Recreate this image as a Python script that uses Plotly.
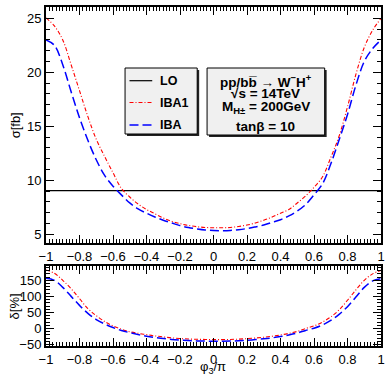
import plotly.graph_objects as go

# ---------------- data ----------------
phi = [-1.00, -0.95, -0.90, -0.85, -0.80, -0.75, -0.70, -0.65, -0.60, -0.55,
       -0.50, -0.45, -0.40, -0.35, -0.30, -0.25, -0.20, -0.15, -0.10, -0.05,
       0.00, 0.05, 0.10, 0.15, 0.20, 0.25, 0.30, 0.35, 0.40, 0.45,
       0.50, 0.55, 0.60, 0.65, 0.70, 0.75, 0.80, 0.85, 0.90, 0.95, 1.00]

sigma_iba1 = [25.05, 24.3, 23.0, 20.7, 18.3, 15.9, 13.8, 12.2, 10.7, 9.25,
              8.45, 7.8, 7.3, 6.9, 6.5, 6.2, 5.98, 5.82, 5.7, 5.63,
              5.6, 5.6, 5.63, 5.72, 5.85, 6.05, 6.3, 6.6, 6.95, 7.3,
              7.9, 8.55, 9.35, 10.3, 12.1, 14.1, 16.8, 19.8, 22.3, 23.9, 25.0]

sigma_iba = [23.0, 22.5, 20.7, 18.2, 15.8, 13.7, 11.9, 10.45, 9.45, 8.65,
             7.9, 7.35, 6.95, 6.6, 6.3, 6.05, 5.8, 5.62, 5.5, 5.4,
             5.35, 5.33, 5.35, 5.42, 5.53, 5.68, 5.85, 6.1, 6.35, 6.7,
             7.15, 7.75, 8.65, 9.65, 11.5, 13.75, 16.1, 18.8, 21.0, 22.2, 23.0]

lo_sigma = 9.05

delta_iba1 = [182, 172, 150, 124, 93, 62, 40, 22, 8, -2,
              -10, -15, -19, -23, -26, -29, -31, -32.5, -33.5, -34,
              -34.5, -34.5, -34, -33, -31.5, -29.5, -27, -24, -20, -15,
              -9, 0, 8, 20, 36, 58, 88, 120, 150, 170, 181]

delta_iba = [156, 150, 128, 100, 72, 47, 28, 14, 3, -6,
             -13, -19, -24, -28, -31, -34, -36, -37.5, -38.5, -39,
             -39.5, -39.5, -39, -38, -36.5, -34.5, -32, -29, -25, -20,
             -14, -6, 1, 11, 25, 44, 68, 98, 128, 148, 155]

x_tick_vals = [-1, -0.8, -0.6, -0.4, -0.2, 0, 0.2, 0.4, 0.6, 0.8, 1]
x_tick_text = ["\u22121", "\u22120.8", "\u22120.6", "\u22120.4", "\u22120.2", "0",
               "0.2", "0.4", "0.6", "0.8", "1"]
top_tick_vals = [5, 10, 15, 20, 25]
top_tick_text = ["5", "10", "15", "20", "25"]
bot_tick_vals = [-50, 0, 50, 100, 150]
bot_tick_text = ["\u221250", "0", "50", "100", "150"]

legend_labels = ["LO", "IBA1", "IBA"]
info_lines = ["pp/bb\u0305 \u2192 W<sup>\u2212</sup>H<sup>+</sup>",
              "\u221As = 14TeV",
              "M<sub>H\u00b1</sub> = 200GeV",
              "tan\u03b2 = 10"]

# ---------------- geometry helpers (pixel -> paper) ----------------
W, H = 387, 378
ML, MR, MT, MB = 46, 2, 7, 32
PW, PH = W - ML - MR, H - MT - MB


def px(x):
    return (x - ML) / PW


def py(y):
    return (H - MB - y) / PH


FONT = "Liberation Sans, Arial, Helvetica, sans-serif"
RED = "#ff0000"
BLUE = "#0000ff"
RED_DASH = "4px,2px,1px,2px"
BLUE_DASH = "9px,4px"

fig = go.Figure()

# top panel
fig.add_trace(go.Scatter(x=phi, y=[lo_sigma] * len(phi), mode="lines",
                         line=dict(color="black", width=1.2),
                         xaxis="x", yaxis="y", name=legend_labels[0]))
fig.add_trace(go.Scatter(x=phi, y=sigma_iba1, mode="lines", line_shape="spline",
                         line=dict(color=RED, width=1.1, dash=RED_DASH),
                         xaxis="x", yaxis="y", name=legend_labels[1]))
fig.add_trace(go.Scatter(x=phi, y=sigma_iba, mode="lines", line_shape="spline",
                         line=dict(color=BLUE, width=1.5, dash=BLUE_DASH),
                         xaxis="x", yaxis="y", name=legend_labels[2]))
# bottom panel
fig.add_trace(go.Scatter(x=phi, y=delta_iba1, mode="lines", line_shape="spline",
                         line=dict(color=RED, width=1.1, dash=RED_DASH),
                         xaxis="x2", yaxis="y2", name=legend_labels[1]))
fig.add_trace(go.Scatter(x=phi, y=delta_iba, mode="lines", line_shape="spline",
                         line=dict(color=BLUE, width=1.5, dash=BLUE_DASH),
                         xaxis="x2", yaxis="y2", name=legend_labels[2]))

axis_common = dict(showgrid=False, zeroline=False, showline=True, linecolor="black",
                   linewidth=2, mirror="allticks", ticks="inside", ticklen=8,
                   tickwidth=1, tickcolor="black",
                   tickfont=dict(family=FONT, size=13, color="black"))

xaxis_common = dict(axis_common, range=[-1, 1], tickmode="array",
                    tickvals=x_tick_vals, ticktext=x_tick_text,
                    minor=dict(tickmode="linear", tick0=-1, dtick=0.02, ticklen=4,
                               ticks="inside", tickcolor="black", tickwidth=1))

top_dom = [py(243), 1]
bot_dom = [0, py(266)]

fig.update_layout(
    width=W, height=H,
    margin=dict(l=ML, r=MR, t=MT, b=MB, pad=0),
    paper_bgcolor="white", plot_bgcolor="white",
    showlegend=False,
    font=dict(family=FONT, size=13, color="black"),
    xaxis=dict(xaxis_common, anchor="y", domain=[0, 1]),
    yaxis=dict(axis_common, anchor="x", domain=top_dom, range=[4.19, 26.05],
               tickmode="array", tickvals=top_tick_vals, ticktext=top_tick_text,
               minor=dict(tickmode="linear", tick0=0, dtick=1, ticklen=4,
                          ticks="inside", tickcolor="black", tickwidth=1)),
    xaxis2=dict(xaxis_common, anchor="y2", domain=[0, 1]),
    yaxis2=dict(axis_common, anchor="x2", domain=bot_dom, range=[-54.4, 194.5],
                tickmode="array", tickvals=bot_tick_vals, ticktext=bot_tick_text,
                minor=dict(tickmode="linear", tick0=0, dtick=10, ticklen=4,
                           ticks="inside", tickcolor="black", tickwidth=1)),
)

shapes = []
annotations = []

# axis titles
annotations.append(dict(xref="paper", yref="paper", x=px(15), y=py(125),
                        text="\u03c3[fb]", textangle=-90, showarrow=False,
                        font=dict(family=FONT, size=13), xanchor="center", yanchor="middle"))
annotations.append(dict(xref="paper", yref="paper", x=px(14), y=py(306),
                        text="\u03b4[%]", textangle=-90, showarrow=False,
                        font=dict(family=FONT, size=13), xanchor="center", yanchor="middle"))
annotations.append(dict(xref="paper", yref="paper", x=px(215), y=py(378),
                        text="\u03c6<sub>3</sub>/\u03c0", showarrow=False,
                        font=dict(family=FONT, size=13), xanchor="center", yanchor="bottom"))


def box(x0, y0, x1, y1):
    # shadow
    shapes.append(dict(type="rect", xref="paper", yref="paper",
                       x0=px(x0 + 2), x1=px(x1 + 2), y0=py(y1 + 2), y1=py(y0 + 2),
                       fillcolor="#222222", line=dict(width=0), layer="above"))
    shapes.append(dict(type="rect", xref="paper", yref="paper",
                       x0=px(x0), x1=px(x1), y0=py(y1), y1=py(y0),
                       fillcolor="#f0f0f0", line=dict(color="black", width=1), layer="above"))


# legend box
box(126, 68, 199, 134)
legend_y = [80.7, 102.5, 125]
legend_styles = [dict(color="black", width=1.2),
                 dict(color=RED, width=1.1, dash=RED_DASH),
                 dict(color=BLUE, width=1.5, dash=BLUE_DASH)]
for lab, yy, st in zip(legend_labels, legend_y, legend_styles):
    shapes.append(dict(type="line", xref="paper", yref="paper",
                       x0=px(130.5), x1=px(153.5), y0=py(yy), y1=py(yy),
                       line=st, layer="above"))
    annotations.append(dict(xref="paper", yref="paper", x=px(159), y=py(yy),
                            text="<b>" + lab + "</b>", showarrow=False,
                            xanchor="left", yanchor="middle",
                            font=dict(family=FONT, size=12.5)))

# info box
box(209, 68, 328, 135)
info_y = [80.5, 93.5, 107, 126.5]
for txt, yy in zip(info_lines, info_y):
    annotations.append(dict(xref="paper", yref="paper", x=px(268.5), y=py(yy),
                            text="<b>" + txt + "</b>", showarrow=False,
                            xanchor="center", yanchor="middle",
                            font=dict(family=FONT, size=13.5)))

fig.update_layout(shapes=shapes, annotations=annotations)

fig.write_html("out.html")
